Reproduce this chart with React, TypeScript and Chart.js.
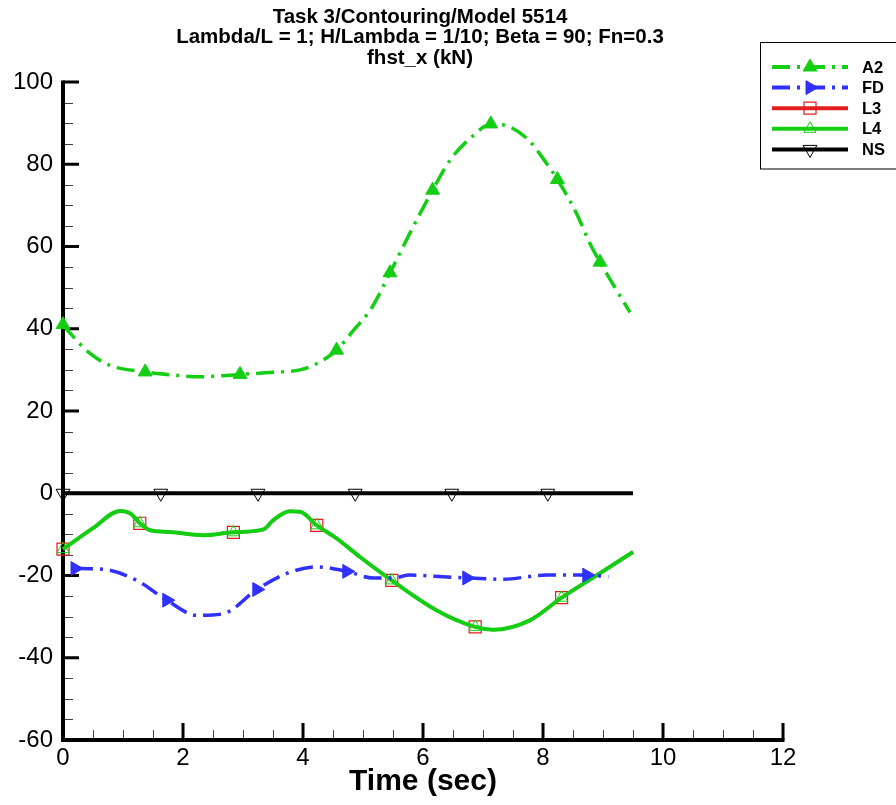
import React, { useEffect, useRef } from 'react';
import { Chart, registerables } from 'chart.js';
import { drawPoint } from 'chart.js/helpers';

Chart.register(...registerables);

const FONT = "'Liberation Sans', Arial, Helvetica, sans-serif";

const TITLE_LINES = [
  'Task 3/Contouring/Model 5514',
  'Lambda/L = 1; H/Lambda = 1/10; Beta = 90; Fn=0.3',
  'fhst_x (kN)',
];
const X_LABEL = 'Time (sec)';
const X_TICKS = [0, 2, 4, 6, 8, 10, 12];
const Y_TICKS = [-60, -40, -20, 0, 20, 40, 60, 80, 100];
const X_MINOR_STEP = 0.5;
const Y_MINOR_STEP = 5;

// A2
const A2_T = [0, 0.12, 0.45, 0.78, 1.37, 1.8, 2.28, 2.95, 3.5, 3.95, 4.2, 4.56, 4.83, 5.14, 5.45, 5.78, 6.16, 6.45, 6.84, 7.13, 7.33, 7.73, 8.06, 8.24, 8.56, 8.78, 8.95, 9.2, 9.45];
const A2_Y = [41, 38.9, 34, 31.1, 29.5, 28.8, 28.3, 28.9, 29.4, 30.0, 31.3, 34.8, 39.4, 45, 53.6, 63.2, 73.7, 81, 87, 89.8, 89.6, 86.3, 80.2, 76.3, 68, 60.8, 56.2, 50, 44];
const A2_MARK_T = [0, 1.37, 2.95, 4.56, 5.45, 6.16, 7.13, 8.24, 8.95];

// FD
const FD_T = [0.2, 0.67, 1.23, 1.73, 2.23, 2.67, 3.23, 3.73, 4.23, 4.73, 5.17, 5.5, 5.78, 6.2, 6.73, 7.33, 8.06, 8.73, 9.09];
const FD_Y = [-18.3, -18.5, -21.2, -26, -29.7, -29.3, -23.4, -19.5, -17.9, -19, -20.6, -20.6, -19.9, -20.2, -20.6, -20.9, -19.9, -19.9, -20.3];
const FD_MARK_T = [0.2, 1.73, 3.23, 4.73, 6.73, 8.73];

// L3 / L4 (coincident)
const L_T = [0, 0.5, 0.95, 1.12, 1.28, 1.45, 1.78, 2.33, 2.84, 3.34, 3.5, 3.78, 3.95, 4.23, 4.56, 4.95, 5.48, 6.23, 6.87, 7.17, 7.78, 8.31, 8.9, 9.5];
const L3_Y = [-13.6, -8.5, -4.3, -4.9, -7.3, -9, -9.4, -10.2, -9.5, -8.8, -6.6, -4.4, -4.5, -7.8, -11, -15.5, -21.2, -28.5, -32.5, -33.2, -30.9, -25.4, -19.9, -14.3];
const L4_Y = [-13.6, -8.5, -4.3, -4.9, -7.3, -9, -9.4, -10.2, -9.5, -8.8, -6.6, -4.4, -4.5, -7.8, -11, -15.5, -21.2, -28.5, -32.5, -33.2, -30.9, -25.4, -19.9, -14.3];
const L_MARK_T = [0, 1.28, 2.84, 4.23, 5.48, 6.87, 8.31];

// NS
const NS_T = [0, 1.63, 3.25, 4.87, 6.48, 8.08, 9.5];
const NS_Y = [0, 0, 0, 0, 0, 0, 0];
const NS_MARK_T = [0, 1.63, 3.25, 4.87, 6.48, 8.08];

const GREEN = 'rgb(20,206,20)';
const BLUE = 'rgb(48,48,255)';
const RED = 'rgb(224,30,30)';

function makeSet(label: string, T: number[], Y: number[], markT: number[], s: any) {
  return {
    label,
    data: T.map((t, i) => ({ x: t, y: Y[i] })),
    borderColor: s.color,
    borderWidth: s.width,
    borderDash: s.dash || [],
    borderCapStyle: 'butt',
    cubicInterpolationMode: 'monotone',
    fill: false,
    clip: false,
    pointStyle: s.pointStyle,
    pointRotation: s.rotation || 0,
    pointRadius: T.map((t) => (markT.includes(t) ? s.r : 0)),
    pointHoverRadius: 0,
    pointBackgroundColor: s.fill,
    pointBorderColor: s.markColor,
    pointBorderWidth: s.markWidth,
  };
}

const decorPlugin = {
  id: 'decor',
  beforeDatasetsDraw(chart: any) {
    const { ctx } = chart;
    const xs = chart.scales.x;
    const ys = chart.scales.y;
    const x0 = xs.getPixelForValue(X_TICKS[0]);
    const x1 = xs.getPixelForValue(X_TICKS[X_TICKS.length - 1]);
    const y0 = ys.getPixelForValue(Y_TICKS[0]);
    const y1 = ys.getPixelForValue(Y_TICKS[Y_TICKS.length - 1]);
    ctx.save();
    // minor ticks
    ctx.strokeStyle = '#444';
    ctx.lineWidth = 1;
    ctx.beginPath();
    for (let v = Y_TICKS[0]; v <= Y_TICKS[Y_TICKS.length - 1] + 1e-9; v += Y_MINOR_STEP) {
      if (Y_TICKS.includes(v)) continue;
      const py = Math.round(ys.getPixelForValue(v)) + 0.5;
      ctx.moveTo(x0, py);
      ctx.lineTo(x0 + 10, py);
    }
    for (let v = X_TICKS[0]; v <= X_TICKS[X_TICKS.length - 1] + 1e-9; v += X_MINOR_STEP) {
      if (X_TICKS.includes(v)) continue;
      const px = Math.round(xs.getPixelForValue(v)) + 0.5;
      ctx.moveTo(px, y0);
      ctx.lineTo(px, y0 - 10);
    }
    ctx.stroke();
    // major ticks
    ctx.strokeStyle = '#000';
    ctx.lineWidth = 3;
    ctx.beginPath();
    for (const v of Y_TICKS) {
      const py = ys.getPixelForValue(v);
      ctx.moveTo(x0, py);
      ctx.lineTo(x0 + 16, py);
    }
    for (const v of X_TICKS) {
      const px = xs.getPixelForValue(v);
      ctx.moveTo(px, y0);
      ctx.lineTo(px, y0 - 17);
    }
    ctx.stroke();
    // axis lines
    ctx.lineWidth = 4;
    ctx.beginPath();
    ctx.moveTo(x0, y1 - 1.5);
    ctx.lineTo(x0, y0 + 2);
    ctx.moveTo(x0 - 2, y0);
    ctx.lineTo(x1 + 1.5, y0);
    ctx.stroke();
    ctx.restore();
  },
  afterDraw(chart: any) {
    const { ctx } = chart;
    ctx.save();
    // title
    ctx.fillStyle = '#000';
    ctx.font = `bold 20.5px ${FONT}`;
    ctx.textAlign = 'center';
    ctx.textBaseline = 'middle';
    const ty = [17, 37.5, 58];
    TITLE_LINES.forEach((t, i) => ctx.fillText(t, 420, ty[i]));
    // legend
    ctx.lineWidth = 1;
    ctx.strokeStyle = '#000';
    ctx.setLineDash([]);
    ctx.strokeRect(760.5, 42.5, 200, 126.5);
    const order = [0, 1, 3, 2, 4]; // A2, FD, L3, L4, NS
    order.forEach((di, i) => {
      const ds = chart.data.datasets[di];
      const y = 67 + i * 20.6;
      ctx.save();
      ctx.setLineDash(ds.borderDash || []);
      ctx.lineCap = 'butt';
      ctx.strokeStyle = ds.borderColor;
      ctx.lineWidth = 4;
      ctx.beginPath();
      ctx.moveTo(772, y);
      ctx.lineTo(848, y);
      ctx.stroke();
      ctx.setLineDash([]);
      ctx.fillStyle = ds.pointBackgroundColor;
      ctx.strokeStyle = ds.pointBorderColor;
      ctx.lineWidth = ds.pointBorderWidth;
      const r = Math.max(...ds.pointRadius);
      drawPoint(ctx, { pointStyle: ds.pointStyle, rotation: ds.pointRotation, radius: r, borderWidth: ds.pointBorderWidth }, 810, y);
      ctx.restore();
      ctx.fillStyle = '#000';
      ctx.font = `bold 16.5px ${FONT}`;
      ctx.textAlign = 'left';
      ctx.textBaseline = 'middle';
      ctx.fillText(ds.label, 862, y + 1);
    });
    ctx.restore();
  },
};

export default function App() {
  const ref = useRef<HTMLCanvasElement>(null);
  useEffect(() => {
    const datasets = [
      makeSet('A2', A2_T, A2_Y, A2_MARK_T, { color: GREEN, width: 3.5, dash: [18, 7, 3, 7], pointStyle: 'triangle', r: 8, fill: GREEN, markColor: GREEN, markWidth: 1 }),
      makeSet('FD', FD_T, FD_Y, FD_MARK_T, { color: BLUE, width: 3.5, dash: [18, 7, 3, 7], pointStyle: 'triangle', rotation: 90, r: 8, fill: BLUE, markColor: BLUE, markWidth: 1 }),
      makeSet('L4', L_T, L4_Y, L_MARK_T, { color: GREEN, width: 4, pointStyle: 'triangle', r: 7, fill: 'rgba(0,0,0,0)', markColor: GREEN, markWidth: 1 }),
      makeSet('L3', L_T, L3_Y, L_MARK_T, { color: RED, width: 3, pointStyle: 'rect', r: 8.5, fill: 'rgba(0,0,0,0)', markColor: RED, markWidth: 1.2 }),
      makeSet('NS', NS_T, NS_Y, NS_MARK_T, { color: '#000', width: 4, pointStyle: 'triangle', rotation: 180, r: 8, fill: 'rgba(0,0,0,0)', markColor: '#000', markWidth: 1 }),
    ];
    const chart = new Chart(ref.current!, {
      type: 'line',
      data: { datasets } as any,
      options: {
        responsive: true,
        maintainAspectRatio: false,
        animation: false,
        events: [],
        layout: { padding: { top: 82, right: 113, left: 0, bottom: 0 } },
        plugins: { legend: { display: false }, title: { display: false }, tooltip: { enabled: false } },
        scales: {
          x: {
            type: 'linear',
            min: X_TICKS[0],
            max: X_TICKS[X_TICKS.length - 1],
            afterFit: (s: any) => { s.height = 65; },
            afterBuildTicks: (s: any) => { s.ticks = X_TICKS.map((v) => ({ value: v })); },
            ticks: { font: { family: FONT, size: 24 }, color: '#000', padding: 4, maxRotation: 0, autoSkip: false },
            grid: { display: false, drawTicks: false },
            border: { display: false },
            title: { display: true, text: X_LABEL, font: { family: FONT, size: 30, weight: 'bold' }, color: '#000', padding: { top: 0, bottom: 5 } },
          },
          y: {
            type: 'linear',
            min: Y_TICKS[0],
            max: Y_TICKS[Y_TICKS.length - 1],
            afterFit: (s: any) => { s.width = 63; },
            afterBuildTicks: (s: any) => { s.ticks = Y_TICKS.map((v) => ({ value: v })); },
            ticks: { font: { family: FONT, size: 24 }, color: '#000', padding: 10, autoSkip: false },
            grid: { display: false, drawTicks: false },
            border: { display: false },
          },
        },
      } as any,
      plugins: [decorPlugin],
    });
    return () => chart.destroy();
  }, []);
  return (
    <div style={{ position: 'absolute', left: 0, top: 0, width: 896, height: 805, background: '#fff' }}>
      <canvas ref={ref} />
    </div>
  );
}
